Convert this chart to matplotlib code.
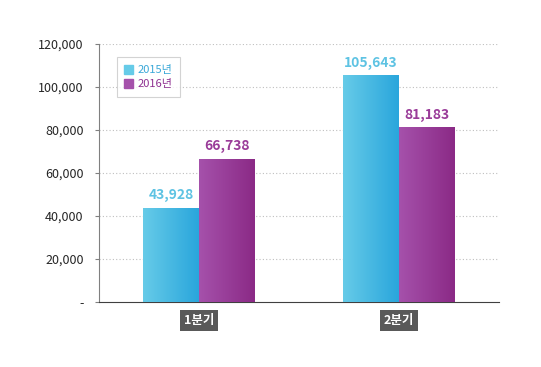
import numpy as np
import matplotlib.pyplot as plt
from matplotlib.patches import Patch

plt.rcParams['font.family'] = ['Noto Sans CJK KR', 'DejaVu Sans']

categories = ['1분기', '2분기']
series_names = ['2015년', '2016년']
values_2015 = [43928, 105643]
values_2016 = [66738, 81183]
yticks = [0, 20000, 40000, 60000, 80000, 100000, 120000]

blue = ('#66cbe8', '#2aa6dc')
purple = ('#a551ab', '#8b2a86')


def gradient_bar(ax, rect, c0, c1):
    x, y = rect.get_x(), rect.get_y()
    w, h = rect.get_width(), rect.get_height()
    cmap = plt.matplotlib.colors.LinearSegmentedColormap.from_list('g', [c0, c1])
    grad = np.linspace(0, 1, 100).reshape(1, -1)
    im = ax.imshow(grad, cmap=cmap, extent=[x, x + w, y, y + h],
                   aspect='auto', zorder=3)
    im.set_clip_path(rect)
    rect.set_alpha(0)


fig = plt.figure(figsize=(5.41, 3.67), dpi=100)
ax = fig.add_axes([0.183, 0.177, 0.739, 0.703])

x = np.arange(len(categories)) + 0.5
w = 0.28
b1 = ax.bar(x - w / 2, values_2015, w, color=blue[0], zorder=3)
b2 = ax.bar(x + w / 2, values_2016, w, color=purple[0], zorder=3)
for r in b1:
    gradient_bar(ax, r, *blue)
for r in b2:
    gradient_bar(ax, r, *purple)

for r, v in zip(b1, values_2015):
    ax.text(r.get_x() + r.get_width() / 2, v + 2500, f'{v:,}', ha='center',
            va='bottom', color='#5ec3e3', fontsize=10, fontweight='bold')
for r, v in zip(b2, values_2016):
    ax.text(r.get_x() + r.get_width() / 2, v + 2500, f'{v:,}', ha='center',
            va='bottom', color='#9a3c99', fontsize=10, fontweight='bold')

ax.set_xlim(0, 2)
ax.set_ylim(0, 120000)
ax.set_yticks(yticks)
ax.set_yticklabels(['-'] + [f'{t:,}' for t in yticks[1:]], fontsize=9,
                   color='#262626', fontweight='medium')
ax.tick_params(axis='y', length=3, color='#808080', pad=8)
ax.set_xticks([])
for t in yticks[1:]:
    ax.axhline(t, color='#bfbfbf', lw=0.8, ls=(0, (1, 2)), zorder=1)

for s in ['top', 'right']:
    ax.spines[s].set_visible(False)
ax.spines['left'].set_color('#808080')
ax.spines['bottom'].set_color('#404040')

for xi, c in zip(x, categories):
    ax.text(xi, -5500, c, ha='center', va='top', color='white', fontsize=9,
            fontweight='bold',
            bbox=dict(boxstyle='square,pad=0.3', fc='#595959', ec='none'))

handles = [Patch(color=blue[0]), Patch(color=purple[0])]
leg = ax.legend(handles, series_names, loc='upper left',
                bbox_to_anchor=(0.03, 0.97), fontsize=8, frameon=True,
                fancybox=False, handlelength=0.8, handleheight=0.8,
                handletextpad=0.4, borderpad=0.7, labelspacing=0.35)
leg.get_frame().set_edgecolor('#c8c8c8')
leg.get_frame().set_linewidth(0.8)
for t, c in zip(leg.get_texts(), ['#3aa8d8', '#8e3090']):
    t.set_color(c)

fig.savefig('out.png', dpi=100)
